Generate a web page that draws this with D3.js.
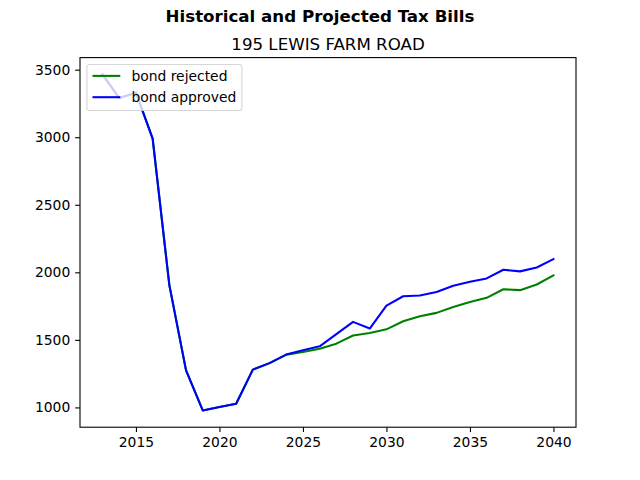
<!DOCTYPE html>
<html>
<head>
<meta charset="utf-8">
<script src="https://cdn.jsdelivr.net/npm/d3@7"></script>
<style>
	body { margin: 0; background: #fff; }
	svg { display: block; font-family: 'DejaVu Sans', sans-serif; }
</style>
</head>
<body>
<svg id="tax-graph" width="640" height="480"></svg>
<script>
// years on the x axis
const years = [2013, 2014, 2015, 2016, 2017, 2018, 2019, 2020, 2021, 2022, 2023, 2024, 2025, 2026,
	2027, 2028, 2029, 2030, 2031, 2032, 2033, 2034, 2035, 2036, 2037, 2038, 2039, 2040];

//tax bill if bond is rejected
const bondRejected = [3465, 3290, 3330, 2990, 1905, 1274, 978, 1003, 1027, 1280, 1328, 1391, 1410, 1435,
	1472, 1532, 1551, 1578, 1638, 1675, 1700, 1744, 1781, 1811, 1875, 1868, 1910, 1977];

//tax bill if bond is approved
const bondApproved = [3465, 3290, 3330, 2990, 1905, 1274, 978, 1003, 1027, 1280, 1328, 1391, 1423, 1452,
	1542, 1633, 1584, 1754, 1823, 1828, 1855, 1900, 1930, 1955, 2019, 2007, 2036, 2098];

const xTicks = [2015, 2020, 2025, 2030, 2035, 2040];
const yTicks = [1000, 1500, 2000, 2500, 3000, 3500];

const seriesNames = ['bond rejected', 'bond approved'];
const seriesColors = ['green', 'blue'];

const mainTitle = 'Historical and Projected Tax Bills';
const subTitle = '195 LEWIS FARM ROAD';

function drawGraph() {
	const svg = d3.select('#tax-graph');

	const //
		left = 80,
		right = 576,
		top = 57.6,
		bottom = 427.2,
		allValues = bondRejected.concat(bondApproved),
		xMin = d3.min(years),
		xMax = d3.max(years),
		yMin = d3.min(allValues),
		yMax = d3.max(allValues),
		xPad = (xMax - xMin) * 0.05, //matplotlib style 5% margins
		yPad = (yMax - yMin) * 0.05;

	const x = d3.scaleLinear().domain([xMin - xPad, xMax + xPad]).range([left, right]);
	const y = d3.scaleLinear().domain([yMin - yPad, yMax + yPad]).range([bottom, top]);

	//titles
	svg.append('text')
		.attr('x', 320)
		.attr('y', 22)
		.attr('text-anchor', 'middle')
		.style('font-size', '16.67px')
		.style('font-weight', 'bold')
		.text(mainTitle);

	svg.append('text')
		.attr('x', (left + right) / 2)
		.attr('y', 49.5)
		.attr('text-anchor', 'middle')
		.style('font-size', '16.67px')
		.text(subTitle);

	//lines
	const series = [bondRejected, bondApproved];
	const line = d3.line()
		.x((d, i) => x(years[i]))
		.y(d => y(d));

	series.forEach((values, i) => {
		svg.append('path')
			.datum(values)
			.attr('d', line)
			.attr('fill', 'none')
			.attr('stroke', seriesColors[i])
			.attr('stroke-width', 2.08)
			.attr('stroke-linejoin', 'round')
			.attr('stroke-linecap', 'square');
	});

	//axes
	const xAxis = svg.append('g')
		.attr('transform', `translate(0,${bottom})`)
		.call(d3.axisBottom(x).tickValues(xTicks).tickFormat(d3.format('d')).tickSizeInner(4.86).tickSizeOuter(0).tickPadding(4.86));

	const yAxis = svg.append('g')
		.attr('transform', `translate(${left},0)`)
		.call(d3.axisLeft(y).tickValues(yTicks).tickFormat(d3.format('d')).tickSizeInner(4.86).tickSizeOuter(0).tickPadding(4.86));

	[xAxis, yAxis].forEach(axis => {
		axis.select('.domain').remove();
		axis.selectAll('line').attr('stroke', '#000').attr('stroke-width', 1.1);
		axis.selectAll('text').style('font-size', '13.89px').style('font-family', 'DejaVu Sans').attr('fill', '#000');
	});

	//frame
	svg.append('rect')
		.attr('x', left)
		.attr('y', top)
		.attr('width', right - left)
		.attr('height', bottom - top)
		.attr('fill', 'none')
		.attr('stroke', '#000')
		.attr('stroke-width', 1.1);

	//legend
	const legend = svg.append('g').attr('transform', `translate(${left + 6.9},${top + 6.9})`);
	legend.append('rect')
		.attr('width', 155)
		.attr('height', 46)
		.attr('rx', 2.8)
		.attr('fill', '#fff')
		.attr('fill-opacity', 0.8)
		.attr('stroke', '#ccc')
		.attr('stroke-opacity', 0.8)
		.attr('stroke-width', 1.1);

	seriesNames.forEach((name, i) => {
		const rowY = 11.4 + i * 21.3;
		legend.append('line')
			.attr('x1', 5.6)
			.attr('x2', 33.4)
			.attr('y1', rowY)
			.attr('y2', rowY)
			.attr('stroke', seriesColors[i])
			.attr('stroke-width', 2.08);
		legend.append('text')
			.attr('x', 44.5)
			.attr('y', rowY)
			.attr('dy', '0.35em')
			.style('font-size', '13.89px')
			.text(name);
	});
}

drawGraph();
</script>
</body>
</html>
